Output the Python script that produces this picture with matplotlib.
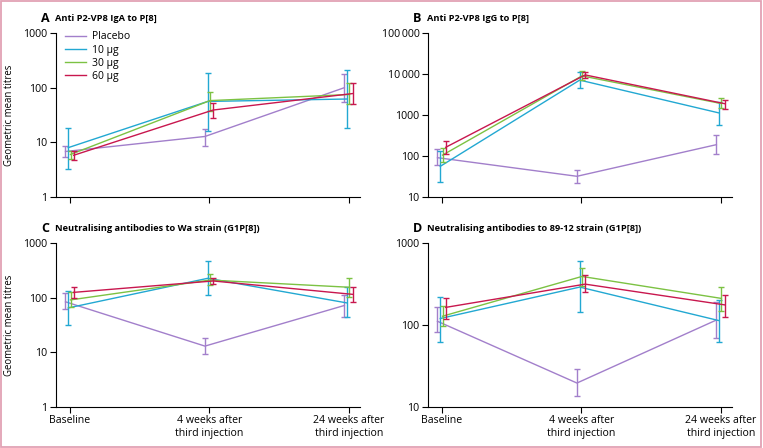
import numpy as np
import matplotlib
matplotlib.use("Agg")
import matplotlib.pyplot as plt
import matplotlib.patches as patches
from matplotlib.lines import Line2D
from matplotlib.ticker import FixedLocator, NullLocator

plt.rcParams['font.family'] = ['Open Sans', 'DejaVu Sans']

# ------------------------
# Data
# ------------------------
groups = ["Placebo", "10 µg", "30 µg", "60 µg"]
colors = ["#a27fcb", "#22a8d2", "#7cc243", "#c8174e"]
timepoints = ["Baseline", "4 weeks after\nthird injection", "24 weeks after\nthird injection"]

# Panel A: anti P2-VP8 IgA
a_gmt = [[6.8, 12.8, 100], [8.0, 56, 62], [6.0, 58, 75], [5.8, 39, 78]]
a_lo = [[5.3, 8.5, 55], [3.2, 16, 18], [5.0, 38, 50], [4.8, 28, 50]]
a_hi = [[8.5, 17.5, 175], [18.5, 185, 210], [7.0, 83, 120], [7.0, 52, 122]]

# Panel B: anti P2-VP8 IgG
b_gmt = [[91, 32, 189], [56, 7100, 1120], [105, 9000, 1900], [163, 9500, 1890]]
b_lo = [[60, 22, 115], [23, 4500, 570], [72, 7000, 1500], [115, 8000, 1400]]
b_hi = [[150, 45, 320], [130, 11500, 2100], [160, 12000, 2600], [235, 11500, 2300]]

# Panel C: neutralising antibodies to Wa strain
c_gmt = [[84, 13, 72], [65, 226, 80], [91, 210, 155], [125, 202, 115]]
c_lo = [[62, 9.5, 44], [31, 110, 44], [68, 170, 105], [100, 175, 85]]
c_hi = [[120, 18.5, 110], [135, 460, 155], [125, 270, 225], [160, 230, 155]]

# Panel D: neutralising antibodies to 89-12 strain
d_gmt = [[111, 19.6, 115], [120, 290, 113], [128, 391, 211], [164, 315, 176]]
d_lo = [[83, 13.5, 70], [62, 145, 62], [97, 300, 150], [120, 250, 125]]
d_hi = [[165, 29, 190], [220, 600, 200], [170, 490, 290], [215, 410, 230]]

offsets = [-0.032, -0.012, 0.004, 0.027]

W, H = 763, 448
fig = plt.figure(figsize=(W / 100, H / 100), dpi=100)


def px_axes(left, top, right, bottom):
    return fig.add_axes([left / W, 1 - bottom / H, (right - left) / W, (bottom - top) / H])


def draw_panel(ax, gmt, lo, hi, ylim, yticks, yticklabels, letter, title, xlabels, ylabel):
    x = np.arange(len(timepoints))
    for i in range(len(groups)):
        xs = x + offsets[i]
        g = np.array(gmt[i])
        err = [g - np.array(lo[i]), np.array(hi[i]) - g]
        ax.errorbar(xs, g, yerr=err, color=colors[i], lw=1.0, elinewidth=1.0,
                    capsize=2.3, capthick=1.0, label=groups[i], zorder=2 + i)
    ax.set_yscale("log")
    ax.set_ylim(*ylim)
    ax.set_xlim(-0.1, 2.08)
    ax.yaxis.set_major_locator(FixedLocator(yticks))
    ax.set_yticklabels(yticklabels)
    ax.yaxis.set_minor_locator(NullLocator())
    ax.set_xticks(x)
    if xlabels:
        ax.set_xticklabels(timepoints)
    else:
        ax.set_xticklabels([])
    ax.spines["top"].set_visible(False)
    ax.spines["right"].set_visible(False)
    for s in ("left", "bottom"):
        ax.spines[s].set_linewidth(0.8)
    ax.tick_params(axis="both", direction="out", length=4, width=0.8, labelsize=7.6, pad=2)
    if ylabel:
        ax.set_ylabel("Geometric mean titres", fontsize=6.9)
        ax.yaxis.set_label_coords(-41 / 304, 0.5)
    # panel letter and title, placed in pixels relative to the axes
    ax.text(-15 / 304, 1.09, letter, transform=ax.transAxes, fontsize=9,
            fontweight="bold", ha="left", va="center")
    ax.text(-1 / 304, 1.09, title, transform=ax.transAxes, fontsize=6.7,
            fontweight="bold", ha="left", va="center")


axA = px_axes(56, 33, 360, 197)
axB = px_axes(428, 33, 732, 197)
axC = px_axes(56, 243, 360, 407)
axD = px_axes(428, 243, 732, 407)

draw_panel(axA, a_gmt, a_lo, a_hi, (1, 1000), [1, 10, 100, 1000],
           ["1", "10", "100", "1000"], "A", "Anti P2-VP8 IgA to P[8]", False, True)
draw_panel(axB, b_gmt, b_lo, b_hi, (10, 100000), [10, 100, 1000, 10000, 100000],
           ["10", "100", "1000", "10\u2009000", "100\u2009000"], "B",
           "Anti P2-VP8 IgG to P[8]", False, False)
draw_panel(axC, c_gmt, c_lo, c_hi, (1, 1000), [1, 10, 100, 1000],
           ["1", "10", "100", "1000"], "C",
           "Neutralising antibodies to Wa strain (G1P[8])", True, True)
draw_panel(axD, d_gmt, d_lo, d_hi, (10, 1000), [10, 100, 1000],
           ["10", "100", "1000"], "D",
           "Neutralising antibodies to 89-12 strain (G1P[8])", True, False)

lh = [Line2D([], [], color=c, lw=1.0) for c in colors]
axA.legend(lh, groups, loc="upper left", bbox_to_anchor=(0.015, 1.035), frameon=False,
           fontsize=7.5, handlelength=2.0, handletextpad=0.6, labelspacing=0.2,
           borderaxespad=0)

# pink frame around the figure
fig.patches.append(patches.Rectangle((0.001, 0.003), 0.996, 0.994, transform=fig.transFigure,
                                     fill=False, edgecolor="#e2a1b4", lw=1.3))

fig.savefig("out.png", dpi=100)
